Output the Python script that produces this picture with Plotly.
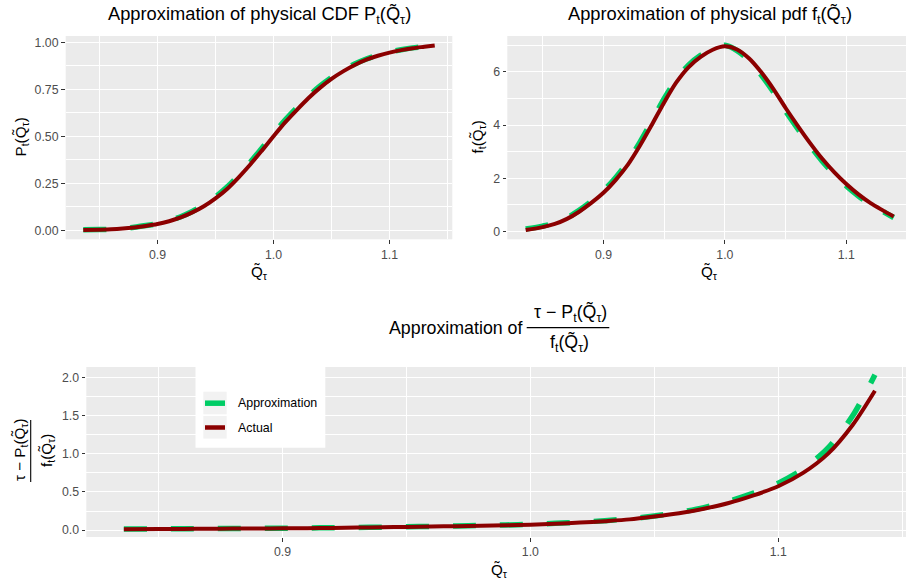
import plotly.graph_objects as go

# ---------------- data ----------------
Q = [0.836, 0.85, 0.86, 0.87, 0.88, 0.89, 0.90, 0.91, 0.92, 0.93, 0.94,
     0.95, 0.96, 0.97, 0.98, 0.99, 1.00, 1.01, 1.02, 1.03, 1.04, 1.05,
     1.06, 1.07, 1.08, 1.09, 1.10, 1.11, 1.12, 1.13, 1.139]

cdf_actual = [0.001, 0.003, 0.005, 0.009, 0.015, 0.023, 0.033, 0.048, 0.068, 0.095, 0.128,
              0.170, 0.220, 0.282, 0.350, 0.424, 0.500, 0.574, 0.640, 0.703, 0.758, 0.806,
              0.846, 0.880, 0.908, 0.929, 0.946, 0.959, 0.969, 0.977, 0.984]
cdf_approx = [0.002, 0.0035, 0.0055, 0.010, 0.016, 0.025, 0.035, 0.051, 0.072, 0.100, 0.134,
              0.178, 0.230, 0.293, 0.362, 0.437, 0.513, 0.586, 0.651, 0.713, 0.767, 0.813,
              0.852, 0.885, 0.912, 0.932, 0.949, 0.961, 0.971, 0.978, 0.985]

pdf_actual = [0.05, 0.16, 0.28, 0.47, 0.74, 1.07, 1.45, 1.93, 2.50, 3.22, 4.02,
              4.85, 5.60, 6.17, 6.56, 6.83, 6.96, 6.84, 6.50, 5.98, 5.35, 4.64,
              3.97, 3.33, 2.74, 2.23, 1.78, 1.39, 1.06, 0.79, 0.56]
pdf_approx = [0.09, 0.20, 0.31, 0.51, 0.79, 1.13, 1.52, 2.02, 2.61, 3.35, 4.16,
              4.99, 5.71, 6.25, 6.62, 6.86, 7.00, 6.80, 6.43, 5.88, 5.24, 4.52,
              3.86, 3.23, 2.65, 2.15, 1.71, 1.33, 1.01, 0.75, 0.52]

ratio_actual = [0.010, 0.013, 0.015, 0.017, 0.019, 0.020, 0.022, 0.025, 0.028, 0.032, 0.036,
                0.041, 0.046, 0.051, 0.057, 0.063, 0.070, 0.083, 0.098, 0.117, 0.140, 0.177,
                0.220, 0.280, 0.355, 0.455, 0.575, 0.750, 1.000, 1.380, 1.830]
ratio_approx = [0.012, 0.015, 0.017, 0.019, 0.021, 0.022, 0.024, 0.027, 0.030, 0.034, 0.038,
                0.043, 0.048, 0.054, 0.060, 0.067, 0.074, 0.088, 0.103, 0.123, 0.147, 0.185,
                0.232, 0.295, 0.378, 0.485, 0.615, 0.800, 1.075, 1.500, 2.040]

series_names = ["Approximation", "Actual"]
x_ticks = [0.9, 1.0, 1.1]

# ---------------- styling ----------------
W, H = 906, 582
FONT = "Liberation Sans, Arial, sans-serif"
GREEN = "#00CD66"
RED = "#8B0000"
DASH = "23px,24px"


def px(v):
    return v / W


def py(v):
    return 1 - v / H


def expand(vals, mult=0.05):
    lo, hi = min(vals), max(vals)
    d = (hi - lo) * mult
    return [lo - d, hi + d]


xr = expand(Q)

fig = go.Figure()
panels = [("x", "y", cdf_approx, cdf_actual),
          ("x2", "y2", pdf_approx, pdf_actual),
          ("x3", "y3", ratio_approx, ratio_actual)]
for xa, ya, ap, ac in panels:
    fig.add_trace(go.Scatter(x=Q, y=ap, xaxis=xa, yaxis=ya, mode="lines",
                             name=series_names[0], showlegend=False,
                             line=dict(color=GREEN, width=5.5, dash=DASH,
                                       shape="spline", smoothing=0.8)))
    fig.add_trace(go.Scatter(x=Q, y=ac, xaxis=xa, yaxis=ya, mode="lines",
                             name=series_names[1], showlegend=False,
                             line=dict(color=RED, width=4, shape="spline",
                                       smoothing=0.8)))

axis_common = dict(showline=False, zeroline=False, showgrid=True,
                   gridcolor="white", gridwidth=1.1,
                   ticks="outside", ticklen=3.7, tickwidth=1.1, tickcolor="#333333",
                   tickfont=dict(family=FONT, size=12.3, color="#4D4D4D"))


def xaxis(dom, rng, anchor):
    return dict(axis_common, domain=dom, range=rng, anchor=anchor,
                tickvals=x_ticks, tickformat=".1f",
                minor=dict(dtick=0.05, tick0=0.85, showgrid=True,
                           gridcolor="white", gridwidth=0.55))


def yaxis(dom, rng, anchor, dtick, fmt):
    return dict(axis_common, domain=dom, range=rng, anchor=anchor,
                tick0=0, dtick=dtick, tickformat=fmt,
                minor=dict(dtick=dtick / 2, tick0=0, showgrid=True,
                           gridcolor="white", gridwidth=0.55))


# pixel geometry of the panels (right-hand panels are cut by the image edge)
tl = (65.7, 452.3)
tr_left, tr_full_right = 507.3, 912.1
bt_left, bt_full_right = 86.3, 912.5


def clipped_range(left, full_right):
    frac = (W - left) / (full_right - left)
    return [xr[0], xr[0] + (xr[1] - xr[0]) * frac]


top_dom = [py(239.3), py(36)]
bot_dom = [py(537), py(367)]

fig.update_layout(
    width=W, height=H,
    margin=dict(l=0, r=0, t=0, b=0),
    paper_bgcolor="white", plot_bgcolor="#EBEBEB",
    font=dict(family=FONT, color="black"),
    showlegend=False,
    xaxis=xaxis([px(tl[0]), px(tl[1])], xr, "y"),
    yaxis=yaxis(top_dom, expand(cdf_actual + cdf_approx), "x", 0.25, ".2f"),
    xaxis2=xaxis([px(tr_left), 1.0], clipped_range(tr_left, tr_full_right), "y2"),
    yaxis2=yaxis(top_dom, expand(pdf_actual + pdf_approx), "x2", 2, "d"),
    xaxis3=xaxis([px(bt_left), 1.0], clipped_range(bt_left, bt_full_right), "y3"),
    yaxis3=yaxis(bot_dom, expand(ratio_actual + ratio_approx), "x3", 0.5, ".1f"),
)

QT = "Q\u0303<sub>τ</sub>"
ann = []


def text(x, y, s, size, angle=0, xanchor="center"):
    ann.append(dict(x=px(x), y=py(y), xref="paper", yref="paper", text=s,
                    showarrow=False, xanchor=xanchor, yanchor="middle",
                    textangle=angle, font=dict(family=FONT, size=size, color="black")))


TS = 18.3
# titles
text(259, 15, "Approximation of physical CDF P<sub>t</sub>(" + QT + ")", TS)
text(709.7, 15, "Approximation of physical pdf f<sub>t</sub>(" + QT + ")", TS)
text(455, 328, "Approximation of", 17.8)
text(570, 313, "τ − P<sub>t</sub>(" + QT + ")", 17.8)
text(569, 343, "f<sub>t</sub>(" + QT + ")", 17.8)

# axis titles
text(259, 272, QT, 15.2)
text(709.7, 272, QT, 15.2)
text(499, 570, QT, 15.2)
text(21, 137.5, "P<sub>t</sub>(" + QT + ")", 15.2, angle=-90)
text(478, 137.5, "f<sub>t</sub>(" + QT + ")", 15.2, angle=-90)
text(20, 450, "τ − P<sub>t</sub>(" + QT + ")", 15.2, angle=-90)
text(47, 451, "f<sub>t</sub>(" + QT + ")", 15.2, angle=-90)

# legend labels
ann.append(dict(x=px(235.5), y=py(403.2), xref="paper", yref="paper", text=series_names[0],
                showarrow=False, xanchor="left", yanchor="middle",
                font=dict(family=FONT, size=12.4, color="black")))
ann.append(dict(x=px(235.5), y=py(427.5), xref="paper", yref="paper", text=series_names[1],
                showarrow=False, xanchor="left", yanchor="middle",
                font=dict(family=FONT, size=12.4, color="black")))

shapes = [
    # fraction bars
    dict(type="line", xref="paper", yref="paper", x0=px(526.7), x1=px(609.3),
         y0=py(327.7), y1=py(327.7), line=dict(color="black", width=1.2)),
    dict(type="line", xref="paper", yref="paper", x0=px(30.7), x1=px(30.7),
         y0=py(420), y1=py(482), line=dict(color="black", width=1.1)),
    # legend box and keys
    dict(type="rect", xref="paper", yref="paper", x0=px(195.5), x1=px(325.3),
         y0=py(447.7), y1=py(366.5), fillcolor="white", line=dict(width=0)),
    dict(type="rect", xref="paper", yref="paper", x0=px(203.3), x1=px(226.7),
         y0=py(414.3), y1=py(391.7), fillcolor="#F2F2F2", line=dict(width=0)),
    dict(type="rect", xref="paper", yref="paper", x0=px(203.3), x1=px(226.7),
         y0=py(438.6), y1=py(416.0), fillcolor="#F2F2F2", line=dict(width=0)),
    dict(type="line", xref="paper", yref="paper", x0=px(205), x1=px(225),
         y0=py(403.2), y1=py(403.2), line=dict(color=GREEN, width=5.5)),
    dict(type="line", xref="paper", yref="paper", x0=px(205), x1=px(225),
         y0=py(427.5), y1=py(427.5), line=dict(color=RED, width=4.5)),
]

fig.update_layout(annotations=ann, shapes=shapes)
fig.write_html("out.html", config={"displayModeBar": False},
               post_script="document.body.style.margin='0px';")
